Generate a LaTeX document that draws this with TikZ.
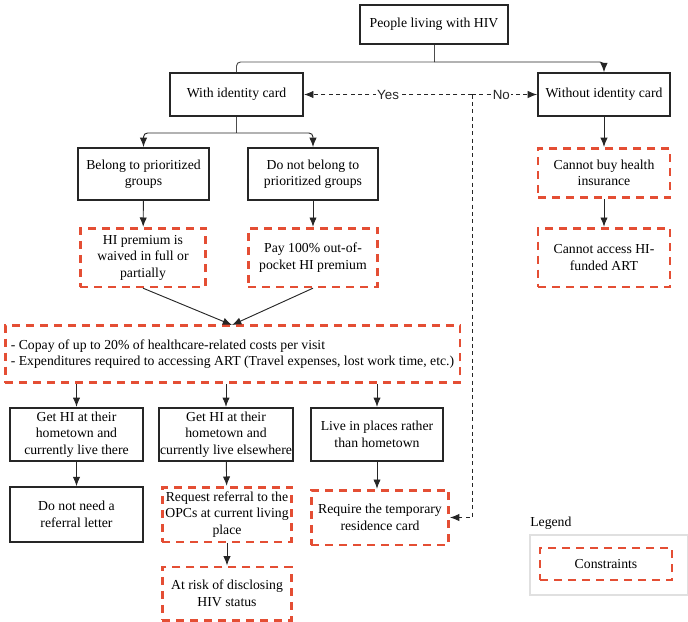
\documentclass[tikz,border=0pt]{standalone}
\usepackage{fontspec}
\setmainfont{Liberation Serif}
\newfontfamily\lsans{Liberation Sans}
\usetikzlibrary{arrows.meta}
\definecolor{cred}{RGB}{228,78,52}
\begin{document}
\begin{tikzpicture}[x=0.75pt,y=-0.75pt,
  every node/.style={font=\fontsize{10.3}{12.4}\selectfont, align=center, inner sep=1pt},
  blk/.style={draw=black!85, line width=1.4pt},
  con/.style={draw=cred, line width=2pt, dash pattern=on 6pt off 4.5pt},
  arr/.style={-{Latex[length=7pt,width=5.5pt]}, line width=0.7pt, black!85},
  dsh/.style={line width=0.6pt, dash pattern=on 3pt off 2.5pt, black!85}]
\useasboundingbox (0,0) rectangle (688,621);
\node[blk,minimum width=111pt,minimum height=29pt] (top) at (434,24.5) {People living with HIV};
\node[blk,minimum width=100pt,minimum height=32pt] (wid) at (236.5,94.5) {With identity card};
\node[blk,minimum width=99pt,minimum height=32pt] (wod) at (604,94.5) {Without identity card};
\node[blk,minimum width=98pt,minimum height=39pt] (bel) at (143.5,174) {Belong to prioritized\\groups};
\node[blk,minimum width=98pt,minimum height=39pt] (nbel) at (313,174) {Do not belong to\\prioritized groups};
\node[con,minimum width=94pt,minimum height=44pt] (wav) at (143,257.5) {HI premium is\\waived in full or\\partially};
\node[con,minimum width=97pt,minimum height=44pt] (pay) at (313,257.5) {Pay 100\% out-of-\\pocket HI premium};
\node[con,minimum width=99pt,minimum height=37pt] (cbuy) at (604,173) {Cannot buy health\\insurance};
\node[con,minimum width=99pt,minimum height=44pt] (cacc) at (604,257.5) {Cannot access HI-\\funded ART};
\node[con,minimum width=341pt,minimum height=43pt,align=left] (cop) at (232.5,354) {- Copay of up to 20\% of healthcare-related costs per visit\\- Expenditures required to accessing ART (Travel expenses, lost work time, etc.)};
\node[blk,minimum width=100pt,minimum height=40pt] (g1) at (76.5,434.5) {Get HI at their\\hometown and\\currently live there};
\node[blk,minimum width=99pt,minimum height=40pt] (g2) at (226,434.5) {Get HI at their\\hometown and\\currently live elsewhere};
\node[blk,minimum width=99pt,minimum height=40pt] (g3) at (377,434.5) {Live in places rather\\than hometown};
\node[blk,minimum width=100pt,minimum height=41pt] (nn) at (76.5,514.5) {Do not need a\\referral letter};
\node[con,minimum width=97pt,minimum height=41pt] (req) at (227,514.5) {Request referral to the\\OPCs at current living\\place};
\node[con,minimum width=103pt,minimum height=41pt] (tmp) at (380,517.5) {Require the temporary\\residence card};
\node[con,minimum width=97pt,minimum height=40pt] (risk) at (227,593.5) {At risk of disclosing\\HIV status};
\node[anchor=south west,inner sep=0pt] (lg) at (530,530) {Legend};
\draw[black!12,line width=0.8pt] (530,535) rectangle (688,595);
\node[con,minimum width=99pt,minimum height=24pt] (lc) at (606,564) {Constraints};
% connectors
\coordinate (j1) at (434,62);
\draw[line width=0.7pt,black!70] (top.south) -- (j1);
\draw[line width=0.7pt,black!70,rounded corners=3pt] (j1) -| (wid.north);
\draw[arr,rounded corners=3pt] (j1) -| (wod.north);
\coordinate (j2) at (236.5,133);
\draw[line width=0.7pt,black!70] (wid.south) -- (j2);
\draw[arr,rounded corners=3pt] (j2) -| (bel.north);
\draw[arr,rounded corners=3pt] (j2) -| (nbel.north);
\coordinate (d) at (472,94.5);
\draw[dsh,-{Latex[length=7pt,width=5.5pt]}] (d) -- node[fill=white,inner sep=1pt,font=\lsans\fontsize{10}{12}\selectfont]{Yes} (wid.east);
\draw[dsh,-{Latex[length=7pt,width=5.5pt]}] (d) -- node[pos=0.45,fill=white,inner sep=1pt,font=\lsans\fontsize{10}{12}\selectfont]{No} (wod.west);
\draw[dsh,-{Latex[length=7pt,width=5.5pt]}] (d) |- (tmp.east);
\draw[arr] (bel) -- (wav);
\draw[arr] (nbel) -- (pay);
\draw[arr] (wod) -- (cbuy);
\draw[arr] (cbuy) -- (cacc);
\coordinate (cj) at (232,325);
\draw[arr] (wav.south) -- (cj);
\draw[arr] (pay.south) -- (cj);
\draw[arr] (cop.south -| g1) -- (g1);
\draw[arr] (cop.south -| g2) -- (g2);
\draw[arr] (cop.south -| g3) -- (g3);
\draw[arr] (g1) -- (nn);
\draw[arr] (g2) -- (req);
\draw[arr] (g3.south) -- (g3.south |- tmp.north);
\draw[arr] (req) -- (risk);
\end{tikzpicture}
\end{document}
